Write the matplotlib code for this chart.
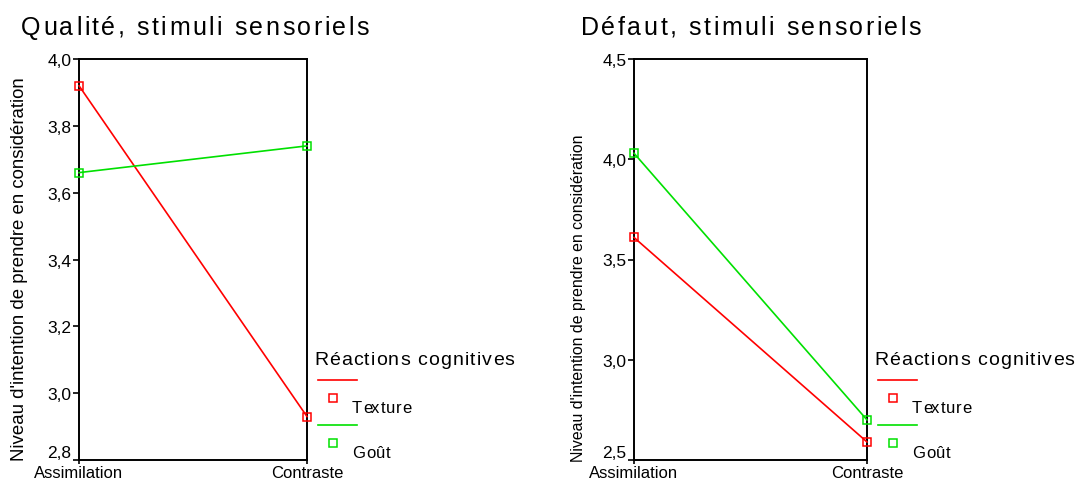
import matplotlib
matplotlib.use("Agg")
import matplotlib.pyplot as plt
from matplotlib.lines import Line2D
from matplotlib.font_manager import FontProperties

plt.rcParams['font.family'] = ['Liberation Sans', 'DejaVu Sans']

categories = ['Assimilation', 'Contraste']
series_names = ['Texture', 'Goût']
colors = ['#ff0000', '#00e000']

# Qualité
qual_texture = [3.92, 2.93]
qual_gout = [3.66, 3.74]
qual_ticks = [2.8, 3.0, 3.2, 3.4, 3.6, 3.8, 4.0]

# Défaut
def_texture = [3.61, 2.59]
def_gout = [4.03, 2.70]
def_ticks = [2.5, 3.0, 3.5, 4.0, 4.5]

ylab = "Niveau d'intention de prendre en considération"

W, H = 1076, 481
fig = plt.figure(figsize=(W / 100, H / 100), dpi=100)
rend = fig.canvas.get_renderer()


def txt_w(s, size):
    fp = FontProperties(family=['Liberation Sans', 'DejaVu Sans'], size=size)
    w1 = rend.get_text_width_height_descent(s + '|', fp, ismath=False)[0]
    w2 = rend.get_text_width_height_descent('|', fp, ismath=False)[0]
    return w1 - w2


def spaced_text(x, y, s, size, track):
    # x, y in pixels from top-left, y = baseline; letters spread out a bit
    for i, ch in enumerate(s):
        if ch == ' ':
            continue
        xi = x + txt_w(s[:i], size) + i * track
        fig.text(xi / W, 1 - y / H, ch, fontsize=size, ha='left', va='baseline')


def panel(rect, title, title_x, texture, gout, ticks, leg_x, ylab_pos, ylab_size):
    ax = fig.add_axes([rect[0] / W, 1 - rect[3] / H, (rect[2] - rect[0]) / W, (rect[3] - rect[1]) / H])
    for vals, c in zip([texture, gout], colors):
        ax.plot([0, 1], vals, color=c, lw=1.2, marker='s', markersize=6,
                markerfacecolor='none', markeredgecolor=c, markeredgewidth=1.1, clip_on=False, zorder=3)
    ax.set_xlim(0, 1)
    ax.set_ylim(ticks[0], ticks[-1])
    ax.set_yticks(ticks)
    ax.set_yticklabels([('%.1f' % t).replace('.', ',') for t in ticks], fontsize=12.5)
    ax.get_yticklabels()[0].set_va('bottom')
    ax.set_xticks([0, 1])
    ax.set_xticklabels(categories, fontsize=12)
    ax.tick_params(direction='out', length=4, width=1.2, pad=1.5)
    ax.tick_params(axis='x', length=3, pad=0.5)
    for s in ax.spines.values():
        s.set_linewidth(1.4)
    fig.text(ylab_pos[0] / W, 1 - ylab_pos[1] / H, ylab, fontsize=ylab_size, rotation=90,
             ha='center', va='center')
    spaced_text(title_x, 35, title, 18, 2.5)

    # legend
    spaced_text(leg_x, 365, 'Réactions cognitives', 14, 1.1)
    for i, (name, c) in enumerate(zip(series_names, colors)):
        y0 = 381 + i * 45
        fig.add_artist(Line2D([(leg_x + 4) / W, (leg_x + 43) / W], [1 - y0 / H, 1 - y0 / H], color=c, lw=1.2))
        fig.add_artist(Line2D([(leg_x + 19) / W], [1 - (y0 + 18) / H], color=c, marker='s', markersize=6,
                              markerfacecolor='none', markeredgewidth=1.1, lw=0))
        spaced_text(leg_x + 38, y0 + 32, name, 12, 0.8)
    return ax


panel((79, 60, 307, 461), 'Qualité, stimuli sensoriels', 21, qual_texture, qual_gout, qual_ticks, 314,
      (20, 269), 13.4)
panel((634, 60, 867, 461), 'Défaut, stimuli sensoriels', 581, def_texture, def_gout, def_ticks, 874,
      (578, 298), 11.4)

fig.savefig('out.png', dpi=100)
